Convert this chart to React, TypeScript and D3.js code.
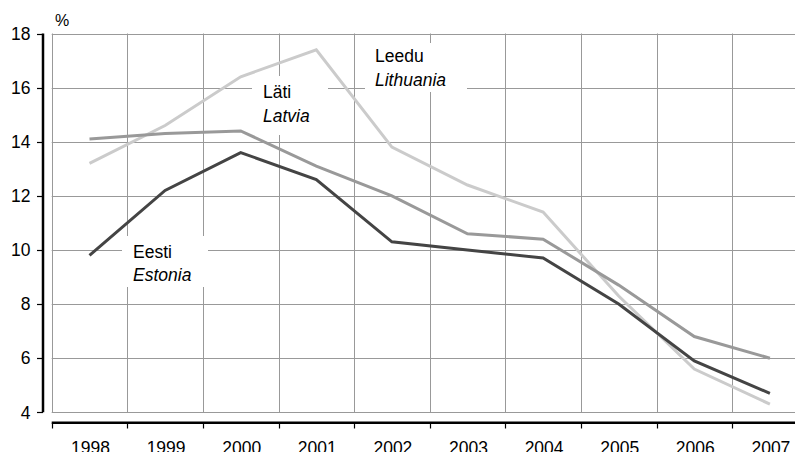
import { useEffect, useRef } from 'react'
import * as d3 from 'd3'

const years = ['1998', '1999', '2000', '2001', '2002', '2003', '2004', '2005', '2006', '2007']
const estonia = [9.8, 12.2, 13.6, 12.6, 10.3, 10.0, 9.7, 8.0, 5.9, 4.7]
const latvia = [14.1, 14.3, 14.4, 13.1, 12.0, 10.6, 10.4, 8.7, 6.8, 6.0]
const lithuania = [13.2, 14.6, 16.4, 17.4, 13.8, 12.4, 11.4, 8.3, 5.6, 4.3]
const yTicks = [4, 6, 8, 10, 12, 14, 16, 18]

const seriesList = [
    { name: 'Lithuania', values: lithuania, color: '#cbcbcb' },
    { name: 'Latvia', values: latvia, color: '#999999' },
    { name: 'Estonia', values: estonia, color: '#444444' },
]

// country labels: Estonian name + English name in italics
const annotations = [
    { et: 'Eesti', en: 'Estonia', box: [122, 236, 86, 51], tx: 133, ty: 257.7 },
    { et: 'Läti', en: 'Latvia', box: [252, 76, 76, 59], tx: 263, ty: 98 },
    { et: 'Leedu', en: 'Lithuania', box: [365, 43, 102, 49], tx: 375, ty: 62 },
]

export default function App() {
    const svgRef = useRef<SVGSVGElement>(null)

    useEffect(() => {
        if (!svgRef.current) return
        const width = 795
        const height = 452
        const svg = d3.select(svgRef.current)
        svg.attr('width', width).attr('height', height)
        svg.selectAll('*').remove()

        const font = '"Liberation Sans", Arial, sans-serif'
        const fs = '17.5px'
        const x = d3.scaleBand().domain(years).range([51.7, 807.7]).padding(0)
        const y = d3.scaleLinear().domain([4, 18]).range([412.3, 33.5])
        const bounds = years.map(d => x(d) as number)

        // grid
        const grid = svg.append('g').attr('stroke', '#999').attr('stroke-width', 1)
        grid.selectAll('.hgrid')
            .data(yTicks)
            .enter()
            .append('line')
            .attr('x1', x.range()[0])
            .attr('x2', width)
            .attr('y1', d => Math.round(y(d)) + 0.5)
            .attr('y2', d => Math.round(y(d)) + 0.5)
        grid.selectAll('.vgrid')
            .data(bounds)
            .enter()
            .append('line')
            .attr('x1', d => Math.round(d) + 0.5)
            .attr('x2', d => Math.round(d) + 0.5)
            .attr('y1', y(18))
            .attr('y2', y(4))

        // label boxes hide the grid behind the names
        annotations.forEach(a => {
            svg.append('rect')
                .attr('x', a.box[0])
                .attr('y', a.box[1])
                .attr('width', a.box[2])
                .attr('height', a.box[3])
                .attr('fill', '#fff')
        })

        // y axis
        svg.append('line')
            .attr('x1', 43).attr('x2', 43)
            .attr('y1', y(18)).attr('y2', y(4))
            .attr('stroke', '#000').attr('stroke-width', 2.5)
        svg.selectAll('.ytick')
            .data(yTicks)
            .enter()
            .append('line')
            .attr('x1', 37).attr('x2', 43)
            .attr('y1', d => Math.round(y(d)) + 0.5)
            .attr('y2', d => Math.round(y(d)) + 0.5)
            .attr('stroke', '#000').attr('stroke-width', 1.2)
        svg.selectAll('.ylabel')
            .data(yTicks)
            .enter()
            .append('text')
            .attr('x', 30.5)
            .attr('y', d => y(d) + 6.3)
            .attr('text-anchor', 'end')
            .attr('font-family', font)
            .attr('font-size', fs)
            .attr('fill', '#000')
            .text(d => d)
        svg.append('text')
            .attr('x', 55).attr('y', 26)
            .attr('font-family', font)
            .attr('font-size', '16px')
            .text('%')

        // x axis
        const axisY = 422.7
        svg.append('line')
            .attr('x1', x.range()[0]).attr('x2', width)
            .attr('y1', axisY).attr('y2', axisY)
            .attr('stroke', '#000').attr('stroke-width', 2.5)
        svg.selectAll('.xtick')
            .data(bounds)
            .enter()
            .append('line')
            .attr('x1', d => Math.round(d) + 0.5)
            .attr('x2', d => Math.round(d) + 0.5)
            .attr('y1', axisY).attr('y2', 428.5)
            .attr('stroke', '#000').attr('stroke-width', 1.2)
        svg.selectAll('.xlabel')
            .data(years)
            .enter()
            .append('text')
            .attr('x', d => (x(d) as number) + x.bandwidth() / 2 + 1)
            .attr('y', 454.3)
            .attr('text-anchor', 'middle')
            .attr('font-family', font)
            .attr('font-size', fs)
            .attr('fill', '#000')
            .text(d => d)

        // series lines
        const line = d3.line<number>()
            .x((_, i) => (x(years[i]) as number) + x.bandwidth() / 2)
            .y(d => y(d))
        seriesList.forEach(s => {
            svg.append('path')
                .datum(s.values)
                .attr('fill', 'none')
                .attr('stroke', s.color)
                .attr('stroke-width', 3)
                .attr('stroke-linejoin', 'miter')
                .attr('d', line)
        })

        // country names
        annotations.forEach(a => {
            svg.append('text')
                .attr('x', a.tx).attr('y', a.ty)
                .attr('font-family', font)
                .attr('font-size', fs)
                .attr('fill', '#000')
                .text(a.et)
            svg.append('text')
                .attr('x', a.tx).attr('y', a.ty + 23.5)
                .attr('font-family', font)
                .attr('font-size', fs)
                .attr('font-style', 'italic')
                .attr('fill', '#000')
                .text(a.en)
        })
    }, [])

    return <svg ref={svgRef} style={{ position: 'absolute', left: 0, top: 0, display: 'block' }} />
}
